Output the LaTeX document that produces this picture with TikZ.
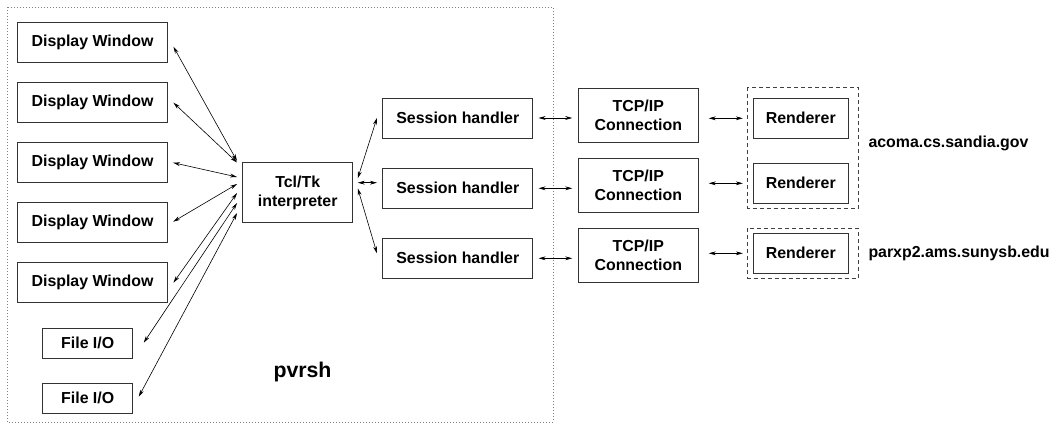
\documentclass[tikz,border=0pt]{standalone}
\usepackage{fontspec}
\setmainfont{Liberation Sans}
\usetikzlibrary{arrows.meta,calc}
\tikzset{
  box/.style={draw=black!80, line width=0.9pt, inner sep=0pt, align=center,
    font=\bfseries\fontsize{15.9}{18.5}\selectfont},
  dwin/.style={box, minimum width=150pt, minimum height=40pt},
  fio/.style={box, minimum width=90pt, minimum height=30pt},
  shand/.style={box, minimum width=150pt, minimum height=40pt},
  tcpc/.style={box, minimum width=120pt, minimum height=54pt},
  rend/.style={box, minimum width=95pt, minimum height=40pt},
  host/.style={anchor=west, inner sep=0pt, font=\bfseries\fontsize{15.9}{18.5}\selectfont},
  link/.style={<->, >={Stealth[length=7pt,width=3.8pt]}, line width=0.6pt},
  shell/.style={draw=black!50, line width=0.7pt, dash pattern=on 1pt off 2pt},
  group/.style={draw=black!75, line width=0.8pt, dash pattern=on 4pt off 3pt},
}
\begin{document}
\begin{tikzpicture}[x=1pt,y=-1pt]
  \useasboundingbox (0,0) rectangle (1050,423);
  \draw[shell] (7,7) rectangle (553,422);
  \node[font=\bfseries\fontsize{21.3}{24}\selectfont] (pvrsh) at (302.5,371.7) {pvrsh};
  % clients of the interpreter
  \foreach \i in {1,...,5}
    \node[dwin] (dw\i) at (92.5,{42.7+60*(\i-1)}) {Display Window};
  \node[fio] (fio1) at (87.7,343.3) {File I/O};
  \node[fio] (fio2) at (87.7,398.3) {File I/O};
  \node[box, minimum width=110pt, minimum height=60pt] (tcl) at (297.7,192.7) {Tcl/Tk\\interpreter};
  % sessions
  \node[shand] (sh1) at (457.8,118) {Session handler};
  \node[shand] (sh2) at (457.8,188.3) {Session handler};
  \node[shand] (sh3) at (457.8,258.3) {Session handler};
  \node[tcpc] (tcp1) at (638.3,115.5) {TCP/IP\\Connection};
  \node[tcpc] (tcp2) at (638.3,185.5) {TCP/IP\\Connection};
  \node[tcpc] (tcp3) at (638.3,255.5) {TCP/IP\\Connection};
  % remote renderers
  \draw[group] (747.7,87.3) rectangle (858.3,208.3);
  \draw[group] (747.7,228.3) rectangle (858.3,278.3);
  \node[rend] (r1) at (800.8,118.3) {Renderer};
  \node[rend] (r2) at (800.8,183.3) {Renderer};
  \node[rend] (r3) at (800.8,253.3) {Renderer};
  \node[host] (acoma) at (868.3,143.3) {acoma.cs.sandia.gov};
  \node[host] (parxp) at (868.3,253.3) {parxp2.ams.sunysb.edu};
  \begin{scope}[link]
    \draw ($(dw1.east)+(5.5,4)$) -- ($(tcl.west)+(-5.2,-31.7)$);
    \draw ($(dw2.east)+(5.5,0)$) -- ($(tcl.west)+(-5.2,-30.2)$);
    \draw ($(dw3.east)+(5.2,0)$) -- ($(tcl.west)+(-5.2,-15.7)$);
    \draw ($(dw4.east)+(5.2,-1)$) -- ($(tcl.west)+(-5.2,-8.7)$);
    \draw ($(dw5.east)+(5.5,0)$) -- ($(tcl.west)+(-5.2,0.3)$);
    \draw ($(fio1.east)+(10.6,-0.6)$) -- ($(tcl.west)+(-5.2,10.3)$);
    \draw ($(fio2.east)+(5.6,-1.6)$) -- ($(tcl.west)+(-5.2,20.3)$);
    \draw ($(tcl.east)+(4.6,-14.4)$) -- ($(sh1.west)+(-5.4,0)$);
    \draw ($(tcl.east)+(4.6,-10)$) -- ($(sh2.west)+(-5.4,-5.6)$);
    \draw ($(tcl.east)+(4.6,-4.4)$) -- ($(sh3.west)+(-5.4,-5)$);
    \draw ($(sh1.east)+(5.3,0)$) -- ($(sh1.east -| tcp1.west)+(-5.6,0)$);
    \draw ($(sh2.east)+(5.3,0)$) -- ($(sh2.east -| tcp2.west)+(-5.6,0)$);
    \draw ($(sh3.east)+(5.3,0)$) -- ($(sh3.east -| tcp3.west)+(-5.6,0)$);
    \draw ($(r1.west -| tcp1.east)+(10,0)$) -- ($(r1.west)+(-10,0)$);
    \draw ($(r2.west -| tcp2.east)+(10,0)$) -- ($(r2.west)+(-10,0)$);
    \draw ($(r3.west -| tcp3.east)+(10,0)$) -- ($(r3.west)+(-10,0)$);
  \end{scope}
\end{tikzpicture}
\end{document}
